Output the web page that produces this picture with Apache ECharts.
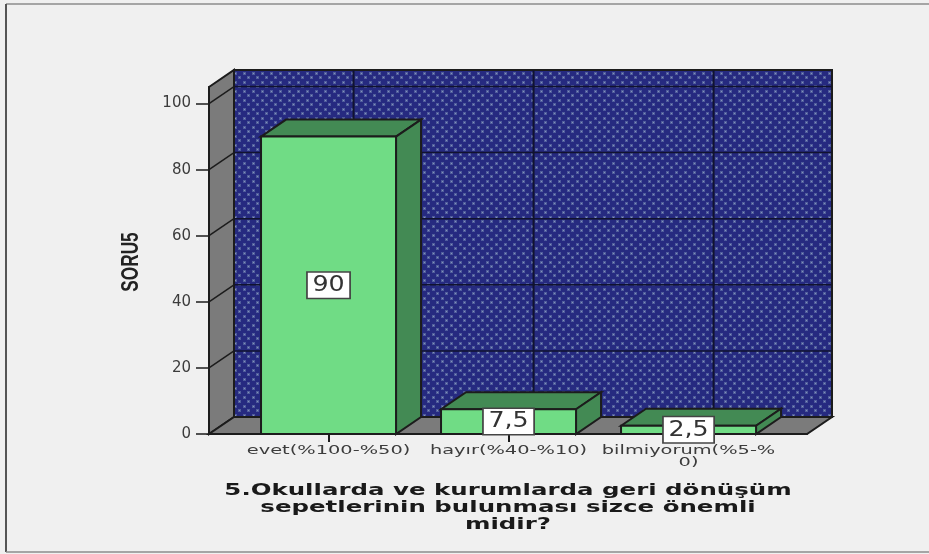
<!DOCTYPE html>
<html>
<head>
<meta charset="utf-8">
<style>
html, body { margin: 0; padding: 0; background: #f0f0f0; }
#chart { width: 929px; height: 554px; }
</style>
<script src="https://cdn.jsdelivr.net/npm/echarts@6/dist/echarts.min.js"></script>
</head>
<body>
<div id="chart"></div>
<script>
var categories = ['evet(%100-%50)', 'hayır(%40-%10)', 'bilmiyorum(%5-%\n0)'];
var values = [90, 7.5, 2.5];
var yTicks = [0, 20, 40, 60, 80, 100];
var xTicks = [0, 1, 2];
var yName = 'SORU5';
var xTitle = '5.Okullarda ve kurumlarda geri dönüşüm\nsepetlerinin bulunması sizce önemli\nmidir?';

// eksen sinirlari
var xMin = -0.664;
var xMax = 2.658;
var yMax = 105;

// 3B derinlik kaymasi (piksel)
var depthX = 25;
var depthY = -17;
var barHalf = 0.375;
var lineColor = '#1c1c1c';

// arka duvarin noktali deseni
function makePattern() {
    var c = document.createElement('canvas');
    c.width = 9;
    c.height = 9;
    var ctx = c.getContext('2d');
    ctx.fillStyle = '#262a80';
    ctx.fillRect(0, 0, 9, 9);
    ctx.fillStyle = '#4f5c9c';
    ctx.fillRect(0, 0, 3, 3);
    ctx.fillRect(4, 4, 3, 3);
    ctx.fillStyle = '#8592b8';
    ctx.fillRect(1, 1, 1, 1);
    ctx.fillRect(5, 5, 1, 1);
    return c;
}
var wallPattern = { image: makePattern(), repeat: 'repeat' };

function poly(points, fill, width) {
    return {
        type: 'polygon',
        shape: { points: points },
        style: { fill: fill, stroke: lineColor, lineWidth: width || 2 }
    };
}
function seg(x1, y1, x2, y2, width, color) {
    return {
        type: 'line',
        shape: { x1: x1, y1: y1, x2: x2, y2: y2 },
        style: { stroke: color || lineColor, lineWidth: width }
    };
}

function renderWalls(params, api) {
    var bl = api.coord([xMin, 0]);
    var tl = api.coord([xMin, yMax]);
    var br = api.coord([xMax, 0]);
    var kids = [];
    // arka duvar, sol duvar, taban
    kids.push(poly([[tl[0] + depthX, tl[1] + depthY], [br[0] + depthX, tl[1] + depthY], [br[0] + depthX, bl[1] + depthY], [bl[0] + depthX, bl[1] + depthY]], wallPattern));
    kids.push(poly([tl, [tl[0] + depthX, tl[1] + depthY], [bl[0] + depthX, bl[1] + depthY], bl], '#7b7b7b'));
    kids.push(poly([bl, [bl[0] + depthX, bl[1] + depthY], [br[0] + depthX, br[1] + depthY], br], '#7b7b7b'));
    yTicks.slice(1).forEach(function (t) {
        var p = api.coord([xMin, t]);
        kids.push(seg(p[0], p[1], p[0] + depthX, p[1] + depthY, 1.5));
        kids.push(seg(p[0] + depthX, p[1] + depthY, br[0] + depthX, p[1] + depthY, 1.5, '#11132f'));
    });
    xTicks.forEach(function (t) {
        var p = api.coord([t, 0]);
        kids.push(seg(p[0] + depthX, bl[1] + depthY, p[0] + depthX, tl[1] + depthY, 2, '#11132f'));
    });
    return { type: 'group', children: kids };
}

function renderBar(params, api) {
    var i = api.value(0);
    var v = api.value(1);
    var a = api.coord([i - barHalf, v]);
    var b = api.coord([i + barHalf, 0]);
    var dark = '#438a54';
    return {
        type: 'group',
        children: [
            poly([a, [a[0] + depthX, a[1] + depthY], [b[0] + depthX, a[1] + depthY], [b[0], a[1]]], dark),
            poly([[b[0], a[1]], [b[0] + depthX, a[1] + depthY], [b[0] + depthX, b[1] + depthY], b], dark),
            poly([a, [b[0], a[1]], b, [a[0], b[1]]], '#70dc85')
        ]
    };
}

function renderValueLabel(params, api) {
    var i = api.value(0);
    var v = api.value(1);
    var p = api.coord([i, v / 2]);
    return {
        type: 'text',
        x: p[0],
        y: p[1],
        scaleX: 1.15,
        style: {
            text: String(v).replace('.', ','),
            align: 'center',
            verticalAlign: 'middle',
            font: '22px "DejaVu Sans"',
            fill: '#333333',
            backgroundColor: '#ffffff',
            borderColor: '#444444',
            borderWidth: 1.5,
            padding: [2, 4, 1, 4]
        }
    };
}

function renderCategory(params, api) {
    var i = api.value(0);
    var p = api.coord([i, 0]);
    return {
        type: 'text',
        x: p[0],
        y: p[1] + 11,
        scaleX: 1.55,
        style: {
            text: categories[i],
            align: 'center',
            verticalAlign: 'top',
            font: '12.5px "DejaVu Sans"',
            lineHeight: 12,
            fill: '#3c3c3c'
        }
    };
}

var indexed = values.map(function (v, i) { return [i, v]; });

var option = {
    animation: false,
    backgroundColor: '#f0f0f0',
    grid: { left: 209, right: 122, top: 87, bottom: 120 },
    xAxis: {
        type: 'value',
        min: xMin,
        max: xMax,
        splitLine: { show: false },
        axisLine: { show: true, onZero: false, lineStyle: { color: lineColor, width: 2 } },
        axisTick: { show: true, length: 8, customValues: xTicks, lineStyle: { color: lineColor, width: 2 } },
        axisLabel: { show: false }
    },
    yAxis: {
        type: 'value',
        min: 0,
        max: yMax,
        splitLine: { show: false },
        axisLine: { show: true, onZero: false, lineStyle: { color: lineColor, width: 2 } },
        axisTick: { show: true, length: 13, customValues: yTicks, lineStyle: { color: lineColor, width: 1.5 } },
        axisLabel: { customValues: yTicks, margin: 18, color: '#3c3c3c', fontFamily: 'DejaVu Sans', fontSize: 15, padding: [4, 0, 0, 0] }
    },
    series: [
        { type: 'custom', renderItem: renderWalls, data: [[0, 0]], silent: true, z: 1 },
        { type: 'custom', renderItem: renderBar, data: indexed, encode: { x: 0, y: 1 }, z: 2 },
        { type: 'custom', renderItem: renderValueLabel, data: indexed, encode: { x: 0, y: 1 }, z: 3 },
        { type: 'custom', renderItem: renderCategory, data: indexed, encode: { x: 0, y: 1 }, z: 4 }
    ],
    graphic: [
        { type: 'line', shape: { x1: 6, y1: 4, x2: 929, y2: 4 }, style: { stroke: '#8c8c8c', lineWidth: 1.5 } },
        { type: 'line', shape: { x1: 6, y1: 4, x2: 6, y2: 552 }, style: { stroke: '#555555', lineWidth: 2 } },
        { type: 'line', shape: { x1: 6, y1: 552, x2: 929, y2: 552 }, style: { stroke: '#8c8c8c', lineWidth: 1.5 } },
        {
            type: 'text',
            x: 132,
            y: 262,
            rotation: Math.PI / 2,
            scaleX: 0.75,
            style: {
                text: yName,
                align: 'center',
                verticalAlign: 'middle',
                font: 'bold 23px "Liberation Sans"',
                fill: '#222222'
            }
        },
        {
            type: 'text',
            x: 508,
            y: 508,
            scaleX: 1.63,
            style: {
                text: xTitle,
                align: 'center',
                verticalAlign: 'middle',
                font: 'bold 15px "DejaVu Sans"',
                lineHeight: 17,
                fill: '#1a1a1a'
            }
        }
    ]
};

var myChart = echarts.init(document.getElementById('chart'));
myChart.setOption(option);
</script>
</body>
</html>
